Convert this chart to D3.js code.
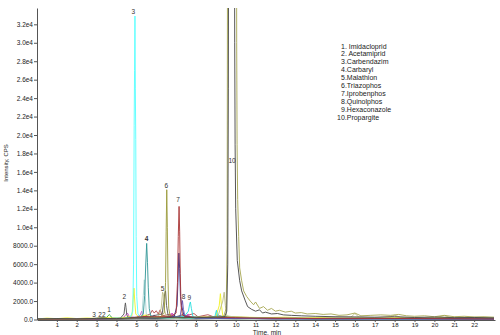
<!DOCTYPE html>
<html>
<head>
<meta charset="utf-8">
<script src="https://cdn.jsdelivr.net/npm/d3@7"></script>
<style>
body { margin: 0; background: #fff; }
svg { display: block; font-family: "Liberation Sans", Arial, sans-serif; }
</style>
</head>
<body>
<svg id="chart"></svg>
<script>
const xTicks = [1, 2, 3, 4, 5, 6, 7, 8, 9, 10, 11, 12, 13, 14, 15, 16, 17, 18, 19, 20, 21, 22];
const yTicks = [0, 2000, 4000, 6000, 8000, 10000, 12000, 14000, 16000, 18000, 20000, 22000, 24000, 26000, 28000, 30000, 32000];
const yTickLabels = ["0.0", "2000.0", "4000.0", "6000.0", "8000.0", "1.0e4", "1.2e4", "1.4e4", "1.6e4", "1.8e4", "2.0e4", "2.2e4", "2.4e4", "2.6e4", "2.8e4", "3.0e4", "3.2e4"];

const compounds = ["1. Imidacloprid", "2. Acetamiprid", "3.Carbendazim", "4.Carbaryl", "5.Malathion", "6.Triazophos", "7.Iprobenphos", "8.Quinolphos", "9.Hexaconazole", "10.Propargite"];

// peak labels: text, time (min), intensity level of the label baseline
const peakLabelText = ["3", "22", "1", "2", "3", "4", "5", "6", "7", "8", "9", "10"];
const peakLabelTime = [2.87, 3.27, 3.63, 4.40, 4.85, 5.52, 6.32, 6.51, 7.10, 7.37, 7.67, 9.82];
const peakLabelLevel = [240, 240, 760, 2170, 33150, 8560, 3140, 14310, 12760, 2220, 2110, 17020];

// extracted ion chromatograms, [time, intensity]
const blackTrace = [[0,10],[1,30],[2,20],[3,40],[4,30],[5,60],[6,50],[7,80],[8,60],[9,90],[10,70],[11,100],[12,60],[13,80],[14,50],[15,90],[16,60],[17,100],[18,70],[19,90],[20,60],[21,80],[22,50],[23,70]];
const brownTrace = [[0,30],[1,60],[2,40],[3,80],[4,60],[4.6,150],[5.3,250],[5.7,600],[5.8,1000],[5.9,700],[6.0,950],[6.1,600],[6.2,1050],[6.3,400],[6.8,600],[7.0,300],[7.5,400],[7.9,650],[8.1,300],[8.6,520],[9,200],[10,180],[11,150],[12,120],[14,100],[16,80],[18,110],[20,70],[23,60]];
const magentaTrace = [[0,20],[1.5,50],[3,70],[4.3,100],[4.55,700],[4.65,300],[5.0,200],[5.2,500],[5.27,900],[5.35,300],[5.8,250],[5.9,500],[6.0,200],[6.7,300],[6.8,700],[6.9,250],[7.5,200],[7.6,600],[7.7,200],[8.5,150],[10,120],[12,90],[15,70],[18,80],[23,50]];
const greenTrace = [[0,30],[0.7,80],[1.4,40],[2,110],[2.6,60],[3.2,140],[3.5,200],[3.58,420],[3.64,520],[3.7,400],[3.78,150],[4.2,100],[5,180],[6,120],[7,150],[8,100],[9,130],[10,90],[12,110],[14,70],[16,90],[18,60],[20,100],[23,50]];
const yellowTrace = [[0,60],[0.5,150],[1,90],[1.5,180],[2,100],[2.5,160],[3,120],[3.5,200],[4,150],[4.5,250],[4.78,400],[4.84,2200],[4.88,3400],[4.92,2000],[4.97,600],[5.1,300],[5.5,500],[5.8,250],[6.3,300],[7,200],[8,250],[9.0,300],[9.17,1500],[9.23,2800],[9.28,1600],[9.35,400],[9.6,300],[10.5,250],[11.5,200],[12.5,250],[13.5,180],[14.5,220],[15.5,150],[16.5,200],[17.5,160],[18.5,220],[19.5,140],[20.5,200],[21.5,150],[22.5,180],[23,120]];
const grayTrace = [[0,20],[1,40],[2,60],[2.9,120],[3.3,180],[3.6,100],[4.2,150],[4.38,600],[4.42,1400],[4.45,1800],[4.48,1300],[4.52,500],[4.6,200],[5,250],[5.6,300],[6.3,600],[6.43,2800],[6.47,3100],[6.52,1500],[6.6,400],[7,300],[7.3,500],[7.6,250],[8.5,200],[9.2,400],[9.4,300],[10,250],[11,200],[12,150],[14,120],[16,150],[18,100],[20,120],[23,80]];
const khakiTrace = [[0,40],[2,70],[4,90],[5.5,150],[6.1,250],[6.25,1200],[6.32,2960],[6.37,2700],[6.42,1000],[6.5,400],[7,250],[8,200],[9.1,300],[9.35,2000],[9.42,2960],[9.48,1500],[9.55,400],[10,250],[11,200],[12,150],[13,180],[14,130],[15,200],[15.8,250],[16.0,650],[16.2,250],[17,200],[17.8,300],[18.0,450],[18.3,250],[19,180],[20,200],[20.5,400],[20.8,250],[22,150],[23,120]];
const paleTealTrace = [[0,20],[3,40],[5,100],[5.28,400],[5.35,2600],[5.4,4300],[5.45,2500],[5.5,600],[5.7,200],[7,120],[10,90],[15,60],[23,40]];
const tealTrace = [[0,20],[0.8,50],[1.6,30],[2.5,70],[3.3,50],[4.1,90],[4.8,140],[5.2,220],[5.35,600],[5.42,2600],[5.47,5800],[5.52,8250],[5.56,6200],[5.6,3500],[5.65,1200],[5.72,400],[5.9,260],[6.3,180],[6.8,300],[7.3,150],[8,120],[9,160],[10,110],[11.5,90],[13,120],[15,80],[17,100],[19,70],[21,90],[23,60]];
const cyanTrace = [[0,40],[0.6,70],[1.2,30],[1.8,90],[2.4,60],[3.0,110],[3.5,80],[4.0,150],[4.4,120],[4.7,260],[4.82,900],[4.86,6000],[4.89,21000],[4.91,27000],[4.93,32900],[4.95,25000],[4.97,19500],[4.99,9000],[5.02,2500],[5.08,600],[5.2,250],[5.5,180],[6.0,220],[6.6,140],[7.2,300],[7.6,160],[8.4,120],[9.2,200],[10,150],[11,120],[12.5,90],[14,110],[16,70],[18,90],[20,60],[22,80],[23,50]];
const hexTrace = [[0,30],[2,60],[4,90],[5.5,150],[6.5,200],[7.4,300],[7.62,900],[7.68,1650],[7.72,1900],[7.77,1200],[7.85,300],[8.5,200],[8.95,300],[9.03,1000],[9.1,300],[10,150],[12,100],[15,80],[18,90],[23,60]];
const oliveTrace = [[0,30],[1,60],[2,40],[3,90],[4,70],[4.8,160],[5.5,200],[6.2,260],[6.4,700],[6.47,4000],[6.5,9500],[6.53,14070],[6.56,10000],[6.59,4500],[6.63,1200],[6.7,400],[6.9,250],[7.5,200],[8.3,160],[9,200],[10,180],[11,150],[12,130],[14,110],[16,100],[18,130],[20,90],[23,70]];
const navyTrace = [[0,30],[2,50],[4,80],[5,150],[6,200],[6.9,300],[7.05,1500],[7.1,4500],[7.14,7200],[7.18,5500],[7.22,2500],[7.28,1500],[7.4,400],[8,180],[9,150],[10,120],[12,90],[15,70],[18,80],[23,50]];
const purpleTrace = [[0,20],[3,50],[6,150],[7.2,300],[7.27,1300],[7.32,2050],[7.37,1100],[7.45,300],[8,150],[12,80],[23,40]];
const redTrace = [[0,20],[1.5,40],[3,60],[4.5,100],[5.2,300],[6.6,300],[6.8,400],[7.0,700],[7.07,4000],[7.11,9000],[7.15,12260],[7.18,9500],[7.21,5000],[7.25,1500],[7.32,500],[7.5,300],[8,250],[9,250],[10,200],[11,150],[13,120],[15,90],[18,110],[21,80],[23,60]];
const propOliveTrace = [[0,40],[1,70],[2,50],[3,100],[4,80],[5,150],[6,200],[7,180],[8,220],[9,260],[9.4,350],[9.52,1200],[9.57,8000],[9.6,60000],[10.03,60000],[10.05,30000],[10.07,19000],[10.1,13000],[10.15,9000],[10.2,5600],[10.3,4200],[10.4,3100],[10.55,2500],[10.73,2000],[10.9,1600],[11.0,1900],[11.2,1200],[11.4,1400],[11.6,1000],[11.8,1200],[12.0,900],[12.2,1000],[12.5,800],[12.8,900],[13.0,700],[13.3,750],[13.6,600],[14.0,650],[14.4,550],[14.8,600],[15.2,450],[15.6,500],[16.0,700],[16.3,400],[16.8,450],[17.3,500],[17.8,450],[18.2,550],[18.6,400],[19,350],[19.5,400],[20,300],[20.5,450],[21,300],[21.5,350],[22,280],[22.5,300],[23,250]];
const propGrayTrace = [[0,50],[1,90],[2,60],[3,120],[4,100],[5,180],[6,150],[7,250],[8,200],[9,250],[9.45,300],[9.55,900],[9.6,6000],[9.63,25000],[9.66,60000],[9.93,60000],[9.95,30000],[9.97,19000],[10.0,12000],[10.08,6400],[10.2,4200],[10.3,3100],[10.47,2100],[10.6,1400],[10.8,1100],[11.0,900],[11.2,1050],[11.35,700],[11.5,800],[11.8,600],[12.1,650],[12.4,500],[12.8,450],[13.3,400],[14,350],[15,300],[16,280],[17,250],[18,300],[19,220],[20,260],[21,200],[22,220],[23,180]];

const traces = [blackTrace, brownTrace, magentaTrace, greenTrace, yellowTrace, grayTrace, khakiTrace, paleTealTrace, tealTrace, hexTrace, cyanTrace, oliveTrace, navyTrace, purpleTrace, redTrace, propOliveTrace, propGrayTrace];
const traceColors = ["#1a1a1a", "#b34d4d", "#cc44cc", "#2ea02e", "#f0f020", "#555555", "#bdbd85", "#a9d4d4", "#2f9595", "#22dede", "#55ffff", "#9a9a3a", "#2b2b8c", "#6a55b0", "#a83232", "#a6a650", "#444444"];

const width = 500;
const height = 335;
const margin = { top: 8, right: 5, bottom: 15.5, left: 37 };

const svg = d3.select("#chart").attr("width", width).attr("height", height);

const x = d3.scaleLinear()
    .domain([0, 23.05])
    .range([margin.left, width - margin.right]);

const y = d3.scaleLinear()
    .domain([0, 33770])
    .range([height - margin.bottom, margin.top]);

svg.append("defs").append("clipPath")
    .attr("id", "plot")
    .append("rect")
    .attr("x", margin.left)
    .attr("y", margin.top)
    .attr("width", width - margin.right - margin.left)
    .attr("height", height - margin.bottom - margin.top + 1);

// Traces
const line = d3.line()
    .x(d => x(d[0]))
    .y(d => y(d[1]));

svg.append("g")
    .attr("clip-path", "url(#plot)")
    .selectAll("path")
    .data(traces)
    .join("path")
    .attr("d", line)
    .attr("fill", "none")
    .attr("stroke", (d, i) => traceColors[i])
    .attr("stroke-width", 0.9);

// X Axis
const xAxis = svg.append("g")
    .attr("transform", `translate(0,${height - margin.bottom + 0.5})`)
    .call(d3.axisBottom(x).tickValues(xTicks).tickSize(2).tickSizeOuter(0).tickPadding(0.5));
xAxis.selectAll("text").attr("font-size", 6).attr("fill", "#222").attr("font-family", null);
xAxis.selectAll("line, path").attr("stroke", "#555");

// Y Axis
const yAxis = svg.append("g")
    .attr("transform", `translate(${margin.left},0)`)
    .call(d3.axisLeft(y).tickValues(yTicks).tickFormat((d, i) => yTickLabels[i]).tickSize(3).tickSizeOuter(0).tickPadding(1));
yAxis.selectAll("text").attr("font-size", 6.5).attr("fill", "#222").attr("font-family", null);
yAxis.selectAll("line, path").attr("stroke", "#555");

// Axis titles
svg.append("text")
    .attr("x", 267)
    .attr("y", 334.5)
    .attr("text-anchor", "middle")
    .attr("font-size", 6.5)
    .attr("fill", "#222")
    .text("Time, min");

svg.append("text")
    .attr("transform", "translate(8,163) rotate(-90)")
    .attr("text-anchor", "middle")
    .attr("font-size", 6)
    .attr("fill", "#222")
    .text("Intensity, CPS");

// Peak labels
svg.append("g")
    .selectAll("text")
    .data(peakLabelText)
    .join("text")
    .attr("x", (d, i) => x(peakLabelTime[i]))
    .attr("y", (d, i) => y(peakLabelLevel[i]))
    .attr("text-anchor", "middle")
    .attr("font-size", 6.5)
    .attr("font-weight", d => d === "4" ? "bold" : null)
    .attr("fill", "#333")
    .text(d => d);

// Compound list
svg.append("g")
    .selectAll("text")
    .data(compounds)
    .join("text")
    .attr("x", (d, i) => i === 9 ? 337 : 341)
    .attr("y", (d, i) => 48.5 + i * 7.9)
    .attr("font-size", 7)
    .attr("fill", "#222")
    .text(d => d);
</script>
</body>
</html>
